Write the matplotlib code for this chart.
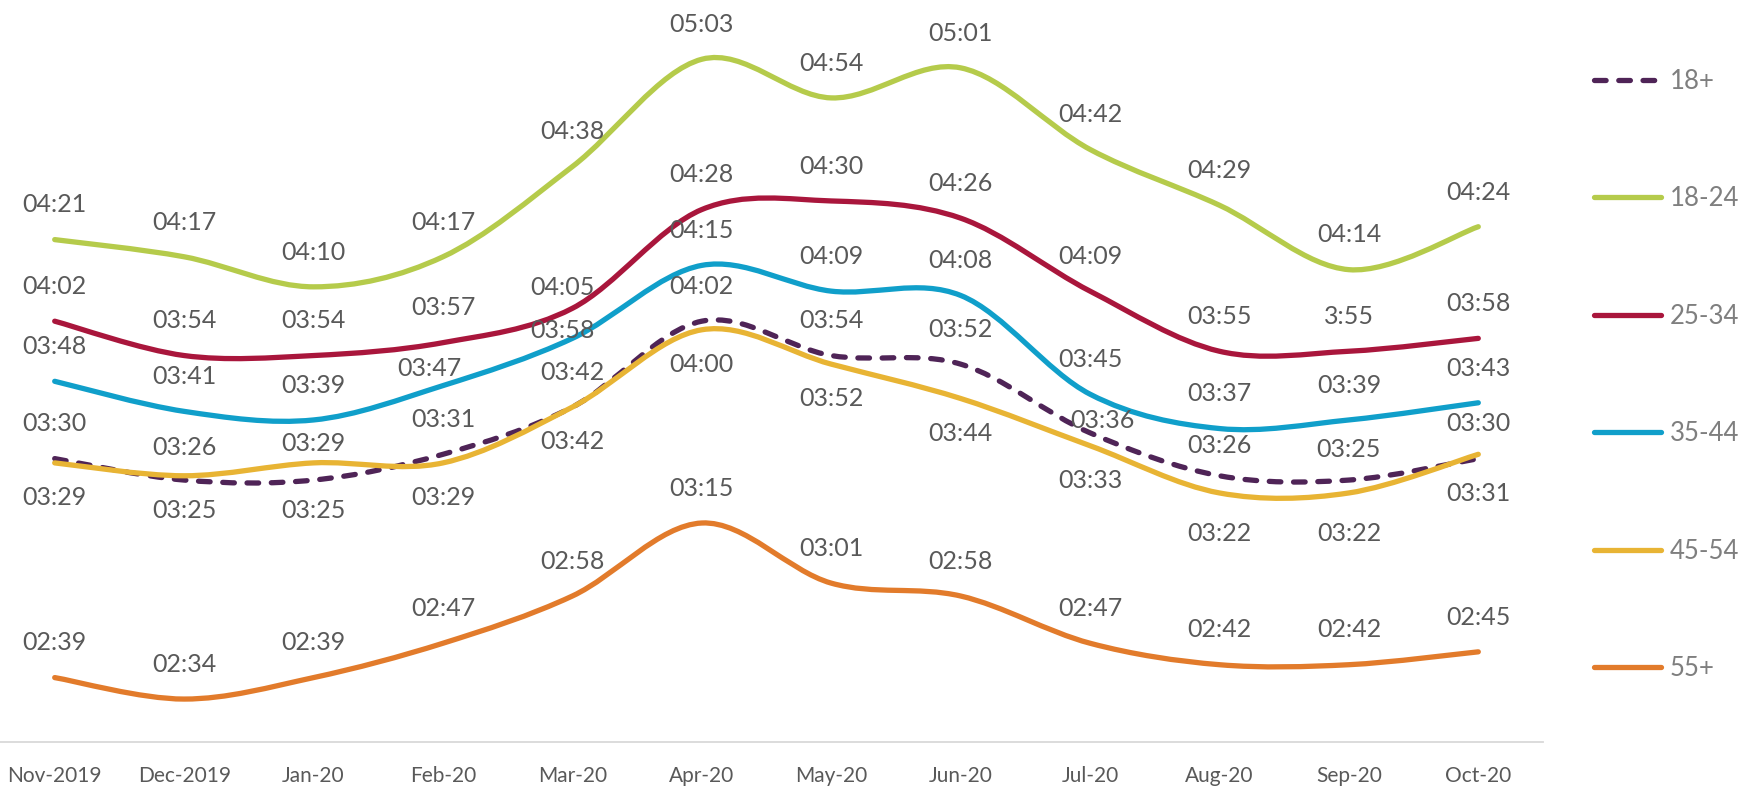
import numpy as np
import matplotlib
matplotlib.use("Agg")
import matplotlib.pyplot as plt
from matplotlib.path import Path
from matplotlib.patches import PathPatch
from matplotlib.lines import Line2D

plt.rcParams['font.family'] = ['Lato', 'DejaVu Sans']

months = ["Nov-2019", "Dec-2019", "Jan-20", "Feb-20", "Mar-20", "Apr-20",
          "May-20", "Jun-20", "Jul-20", "Aug-20", "Sep-20", "Oct-20"]

# average daily time (hh:mm) per age group
t_18plus = ["03:30", "03:25", "03:25", "03:31", "03:42", "04:02",
            "03:54", "03:52", "03:36", "03:26", "03:25", "03:30"]
t_18_24 = ["04:21", "04:17", "04:10", "04:17", "04:38", "05:03",
           "04:54", "05:01", "04:42", "04:29", "04:14", "04:24"]
t_25_34 = ["04:02", "03:54", "03:54", "03:57", "04:05", "04:28",
           "04:30", "04:26", "04:09", "03:55", "3:55", "03:58"]
t_35_44 = ["03:48", "03:41", "03:39", "03:47", "03:58", "04:15",
           "04:09", "04:08", "03:45", "03:37", "03:39", "03:43"]
t_45_54 = ["03:29", "03:26", "03:29", "03:29", "03:42", "04:00",
           "03:52", "03:44", "03:33", "03:22", "03:22", "03:31"]
t_55plus = ["02:39", "02:34", "02:39", "02:47", "02:58", "03:15",
            "03:01", "02:58", "02:47", "02:42", "02:42", "02:45"]

groups = ["18+", "18-24", "25-34", "35-44", "45-54", "55+"]
series = [t_18plus, t_18_24, t_25_34, t_35_44, t_45_54, t_55plus]
colors = ["#4F2457", "#B5CB4B", "#A9163C", "#109FCA", "#E8B434", "#E27B2B"]
styles = ["dashed", "solid", "solid", "solid", "solid", "solid"]
DASH = (0, (2.2, 2.4))
LW = 3.8

# label offsets in points: default per series, plus a few moved by hand
ABOVE, BELOW = (0, 25), (0, -25)
label_default = [ABOVE, ABOVE, ABOVE, ABOVE, BELOW, ABOVE]
label_moved = [
    {1: (0, -22), 2: (0, -22), 8: (9, 9), 9: (0, 22), 10: (0, 22)},
    {},
    {4: (-7, 15)},
    {3: (-10, 12), 4: (-7, 6)},
    {1: (0, 20), 2: (0, 14), 9: (0, -29), 10: (0, -29), 11: (0, -28)},
    {},
]


def to_minutes(t):
    h, m = t.split(":")
    return int(h) * 60 + int(m)


def smooth_path(x, y):
    # cubic bezier through every point (catmull-rom style tangents)
    pts = np.column_stack([x, y]).astype(float)
    ext = np.vstack([pts[0], pts, pts[-1]])
    verts = [pts[0]]
    codes = [Path.MOVETO]
    for i in range(len(pts) - 1):
        p0, p1, p2, p3 = ext[i], ext[i + 1], ext[i + 2], ext[i + 3]
        verts += [p1 + (p2 - p0) / 6, p2 - (p3 - p1) / 6, p2]
        codes += [Path.CURVE4] * 3
    return Path(verts, codes)


fig = plt.figure(figsize=(17.42, 7.87), dpi=100)
ax = fig.add_axes([-10 / 1742, 45 / 787, 1553 / 1742, 742 / 787])

x = np.arange(len(months))
handles = []
for name, vals, col, ls, lpos, moved in zip(groups, series, colors, styles,
                                             label_default, label_moved):
    y = np.array([to_minutes(v) for v in vals])
    patch = PathPatch(smooth_path(x, y), fill=False, edgecolor=col, lw=LW,
                      capstyle='round', joinstyle='round')
    if ls == "dashed":
        patch.set_linestyle(DASH)
    ax.add_patch(patch)
    for i, (xi, yi) in enumerate(zip(x, y)):
        off = moved.get(i, lpos)
        ax.annotate(vals[i], (xi, yi), xytext=off, textcoords="offset points",
                    ha="center", va="center", fontsize=18, color="#595959")
    h = Line2D([], [], color=col, lw=LW, solid_capstyle='round',
               dash_capstyle='round')
    if ls == "dashed":
        h.set_linestyle(DASH)
    handles.append(h)

ax.set_xlim(-0.5, 11.5)
ax.set_ylim(144, 316.8)
ax.set_xticks(x)
ax.set_xticklabels(months)
ax.set_yticks([])
ax.tick_params(axis="x", length=0, pad=17, labelsize=15, labelcolor="#595959")
for s in ["top", "left", "right"]:
    ax.spines[s].set_visible(False)
ax.spines["bottom"].set_color("#D9D9D9")
ax.spines["bottom"].set_linewidth(1.3)

fig.legend(handles, groups, loc="center left",
           bbox_to_anchor=(1594 / 1742, 1 - 375 / 787), frameon=False,
           fontsize=18.5, labelcolor="#7F7F7F", handlelength=2.6,
           handletextpad=0.35, labelspacing=3.6, borderpad=0, borderaxespad=0)

fig.savefig("out.png", dpi=100)
